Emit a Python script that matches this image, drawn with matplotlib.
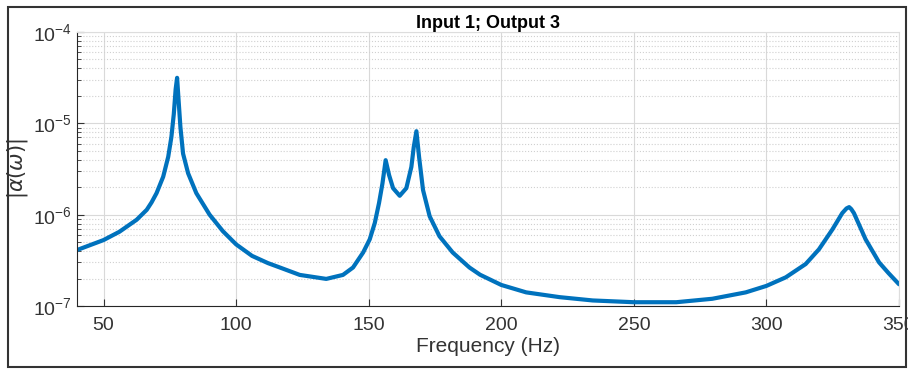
import numpy as np
import matplotlib
matplotlib.use("Agg")
import matplotlib.pyplot as plt
from matplotlib.patches import Rectangle
from matplotlib.ticker import LogLocator, NullFormatter, FixedLocator

plt.rcParams['font.family'] = ['Liberation Sans', 'DejaVu Sans']
plt.rcParams['mathtext.fontset'] = 'dejavusans'

# Values (frequency in Hz, |alpha|)
freq = [40, 50, 56, 62.5, 66.3, 68.1, 70, 72.5, 74.4, 75.6, 76.5, 77.2, 77.75,
        78.25, 79, 80, 81.9, 85, 90, 95, 100, 106, 112, 116.5, 124, 134,
        140.3, 144.1, 147.9, 150.4, 152.3, 153.9, 155.2, 156.4, 157.7, 159.2,
        161.7, 164.2, 166.1, 167, 168, 169, 170.5, 173, 176.7, 181.7, 188,
        192, 200, 209.4, 222, 234.5, 250, 266, 279.6, 292.2, 300, 307.3,
        314.8, 319.8, 324.9, 328.6, 330.2, 331.2, 332, 333, 337.4, 342.5,
        346, 350]
alpha = [4.1e-7, 5.27e-7, 6.5e-7, 8.8e-7, 1.13e-6, 1.36e-6, 1.72e-6, 2.6e-6,
         4.3e-6, 7.1e-6, 1.26e-5, 2.36e-5, 3.15e-5,
         1.9e-5, 9.1e-6, 4.66e-6, 2.84e-6, 1.72e-6, 1.0e-6, 6.6e-7, 4.73e-7,
         3.54e-7, 2.95e-7, 2.64e-7, 2.19e-7, 1.98e-7,
         2.19e-7, 2.64e-7, 3.85e-7, 5.37e-7, 8.1e-7, 1.34e-6, 2.2e-6, 3.95e-6,
         2.71e-6, 1.95e-6,
         1.61e-6, 1.95e-6, 3.33e-6, 5.5e-6, 8.2e-6, 4.3e-6, 1.86e-6, 9.6e-7,
         5.8e-7, 3.85e-7, 2.64e-7,
         2.2e-7, 1.7e-7, 1.41e-7, 1.25e-7, 1.15e-7, 1.1e-7, 1.1e-7, 1.2e-7,
         1.41e-7, 1.66e-7, 2.06e-7,
         2.88e-7, 4.17e-7, 6.9e-7, 1.04e-6, 1.17e-6, 1.21e-6, 1.15e-6, 1.04e-6,
         5.37e-7, 3.0e-7,
         2.3e-7, 1.73e-7]

xticks = [50, 100, 150, 200, 250, 300, 350]

fig = plt.figure(figsize=(9.08, 3.71), dpi=100)
ax = fig.add_axes([77 / 908, 1 - 306 / 371, (899 - 77) / 908, (306 - 32) / 371])

ax.semilogy(freq, alpha, color='#0072BD', lw=3.0,
            solid_joinstyle='round', solid_capstyle='round')

ax.set_xlim(40, 350)
ax.set_ylim(1e-7, 1e-4)
ax.xaxis.set_major_locator(FixedLocator(xticks))
ax.yaxis.set_major_locator(LogLocator(base=10, numticks=10))
ax.yaxis.set_minor_locator(LogLocator(base=10, subs=np.arange(2, 10), numticks=10))
ax.yaxis.set_minor_formatter(NullFormatter())

ax.grid(True, which='major', color='#d9d9d9', lw=0.8)
ax.grid(True, which='minor', axis='y', color='#d0d0d0', lw=0.8, ls=':')
ax.set_axisbelow(True)

ax.tick_params(which='both', direction='in', labelsize=14, colors='#333333')
ax.tick_params(which='major', length=5)
ax.tick_params(which='minor', length=3)
ax.tick_params(axis='x', pad=8)
for s in ['top', 'right']:
    ax.spines[s].set_color('#dddddd')
for s in ['left', 'bottom']:
    ax.spines[s].set_color('#262626')

ax.set_title('Input 1; Output 3', fontsize=13, fontweight='bold', pad=3)
ax.set_xlabel('Frequency (Hz)', fontsize=15, color='#333333', labelpad=2)
ax.set_ylabel(r'$|\alpha(\omega)|$', fontsize=15, color='#333333', labelpad=2)

# frame around the screenshot
fig.patches.append(Rectangle((8 / 908, 4 / 371), 898 / 908, 360 / 371,
                             transform=fig.transFigure, fill=False,
                             edgecolor='#333333', lw=1.5))

fig.savefig('out.png', dpi=100)
